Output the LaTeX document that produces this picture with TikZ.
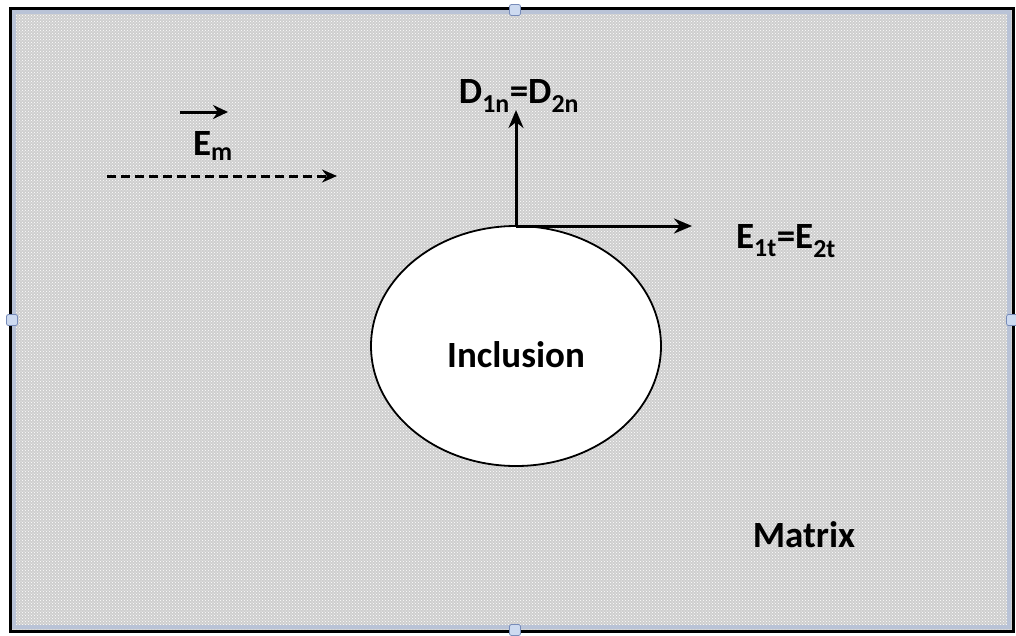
\documentclass[tikz,border=0pt]{standalone}
\usepackage{fontspec}
\setmainfont{Carlito}
\usetikzlibrary{arrows.meta,patterns,shapes.geometric}
\definecolor{bgfill}{RGB}{206,206,206}
\definecolor{handle}{RGB}{205,218,240}
\definecolor{handledraw}{RGB}{120,140,185}
\definecolor{bandc}{RGB}{185,195,215}
\begin{document}
\begin{tikzpicture}[x=1pt,y=-1pt,
  lbl/.style={font=\fontsize{37}{40}\selectfont\bfseries, inner sep=0pt},
  vec/.style={line width=3pt, -{Stealth[length=18pt,width=15pt]}},
  hnd/.style={fill=handle, draw=handledraw, line width=0.8pt, rounded corners=2pt, minimum size=11pt, inner sep=0pt}]
\useasboundingbox (0,0) rectangle (1016,635);
% matrix background
\fill[bgfill] (10,8) rectangle (1013,631);
\fill[pattern=crosshatch dots, pattern color=white] (12,10) rectangle (1011,629);
\draw[bandc, line width=4pt] (14,12) rectangle (1009,627);
\draw[black, line width=3pt] (10,8) rectangle (1013,631);
% handles
\node[hnd] (ht) at (515,10) {};
\node[hnd] (hb) at (515,630) {};
\node[hnd] (hl) at (12,320) {};
\node[hnd] (hr) at (1012,320) {};
% inclusion
\node[ellipse, draw=black, fill=white, line width=1.8pt, minimum width=290pt, minimum height=240pt, inner sep=0pt] (incl) at (516,346) {};
\node[lbl] (incltext) at (516,355) {Inclusion};
\node[lbl] (matrix) at (804,535) {Matrix};
% applied field
\coordinate (ems) at (180,112);
\coordinate (eme) at (228,112);
\draw[line width=3pt, -{Stealth[length=15pt,width=14pt]}] (ems) -- (eme);
\node[lbl] (em) at (213,146) {E\textsubscript{m}};
\coordinate (ds) at (107,176);
\coordinate (de) at (337,176);
\draw[line width=3pt, dash pattern=on 9pt off 5pt, -{Stealth[length=15pt,width=13pt]}] (ds) -- (de);
% boundary vectors
\coordinate (o) at (516,226);
\coordinate (dn) at (516,110);
\coordinate (et) at (692,226);
\draw[vec] (o) -- (dn);
\draw[vec] (o) -- (et);
\node[lbl] (dlabel) at (519,96) {D\textsubscript{1n}=D\textsubscript{2n}};
\node[lbl] (elabel) at (786,241) {E\textsubscript{1t}=E\textsubscript{2t}};
\end{tikzpicture}
\end{document}
